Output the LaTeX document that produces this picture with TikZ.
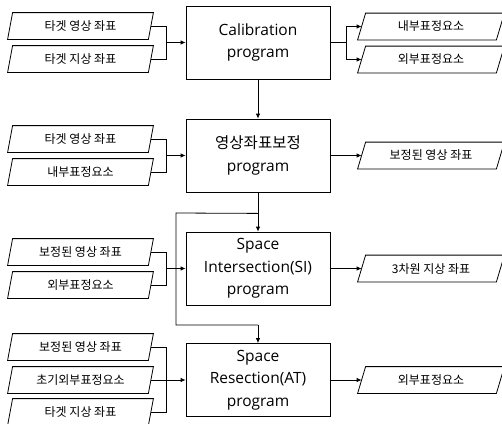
\documentclass[tikz,border=0pt]{standalone}
\usepackage{fontspec}
\setmainfont{Open Sans}
\newfontfamily\kr{Noto Sans CJK KR}
\usetikzlibrary{arrows.meta}
\begin{document}
\begin{tikzpicture}[x=1pt,y=-1pt,
  line width=0.8pt,
  prog/.style={draw, minimum width=144pt, minimum height=73pt, inner sep=0pt, align=center, font=\fontsize{15.5}{22.5}\selectfont},
  lpara/.style={minimum width=140pt, minimum height=26pt, inner sep=0pt, font=\kr\fontsize{12}{14}\selectfont},
  rpara/.style={minimum width=138pt, minimum height=26pt, inner sep=0pt, font=\kr\fontsize{12}{14}\selectfont},
  arr/.style={-{Latex[length=5pt,width=4.5pt]}},
]
\useasboundingbox (0,0) rectangle (502,423);
% program boxes
\node[prog] (c1) at (258,42.5) {Calibration\\program};
\node[prog] (c2) at (258,155.5) {{\kr 영상좌표보정}\\program};
\node[prog] (c3) at (258,268.5) {Space\\Intersection(SI)\\program};
\node[prog] (c4) at (258,380) {Space\\Resection(AT)\\program};
% left inputs
\node[lpara] (l1a) at (80.5,26) {타겟 영상 좌표};
\node[lpara] (l1b) at (80.5,59) {타겟 지상 좌표};
\node[lpara] (l2a) at (80.5,139) {타겟 영상 좌표};
\node[lpara] (l2b) at (80.5,172) {내부표정요소};
\node[lpara] (l3a) at (80.5,252) {보정된 영상 좌표};
\node[lpara] (l3b) at (80.5,285) {외부표정요소};
\node[lpara] (l4a) at (80.5,347) {보정된 영상 좌표};
\node[lpara] (l4b) at (80.5,380) {초기외부표정요소};
\node[lpara] (l4c) at (80.5,412) {타겟 지상 좌표};
% right outputs
\node[rpara] (r1a) at (431,26.5) {내부표정요소};
\node[rpara] (r1b) at (431,59.5) {외부표정요소};
\node[rpara] (r2) at (431,155.5) {보정된 영상 좌표};
\node[rpara] (r3) at (431,268.5) {3차원 지상 좌표};
\node[rpara] (r4) at (431,380) {외부표정요소};
% parallelogram outlines
\foreach \n in {l1a,l1b,l2a,l2b,l3a,l3b,l4a,l4b,l4c}
  \draw ([xshift=2.5pt]\n.north west) -- ([xshift=2.5pt]\n.north east) -- ([xshift=-2.5pt]\n.south east) -- ([xshift=-2.5pt]\n.south west) -- cycle;
\foreach \n in {r1a,r1b,r2,r3,r4}
  \draw ([xshift=4pt]\n.north west) -- ([xshift=4pt]\n.north east) -- ([xshift=-4pt]\n.south east) -- ([xshift=-4pt]\n.south west) -- cycle;
% left junctions
\coordinate (j1) at ([xshift=-19pt]c1.west);
\coordinate (j2) at ([xshift=-19pt]c2.west);
\coordinate (j3) at ([xshift=-19pt]c3.west);
\coordinate (j4) at ([xshift=-19pt]c4.west);
\draw (l1a.east) -| (j1) |- (l1b.east);
\draw[arr] (j1) -- (c1.west);
\draw (l2a.east) -| (j2) |- (l2b.east);
\draw[arr] (j2) -- (c2.west);
\draw (l3a.east) -| (j3) |- (l3b.east);
\draw[arr] (j3) -- (c3.west);
\draw (l4a.east) -| (j4) |- (l4c.east);
\draw (l4b.east) -- (j4);
\draw[arr] (j4) -- (c4.west);
% right outputs
\coordinate (k1) at ([xshift=16pt]c1.east);
\draw (c1.east) -- (k1);
\draw[arr] (k1) |- (r1a.west);
\draw[arr] (k1) |- (r1b.west);
\draw[arr] (c2.east) -- (r2.west);
\draw[arr] (c3.east) -- (r3.west);
\draw[arr] (c4.east) -- (r4.west);
% vertical flow
\draw[arr] (c1.south) -- (c2.north);
\coordinate (b1) at ([yshift=-21pt]c2.south);
\coordinate (b2) at (176,213);
\coordinate (b3) at (176,325);
\coordinate (b4) at (258,325);
\draw (c2.south) -- (b1);
\draw[arr] (b1) -- (c3.north);
\draw (b1) -- (b2) -- (b3) -- (b4);
\draw[arr] (b4) -- (c4.north);
\end{tikzpicture}
\end{document}
